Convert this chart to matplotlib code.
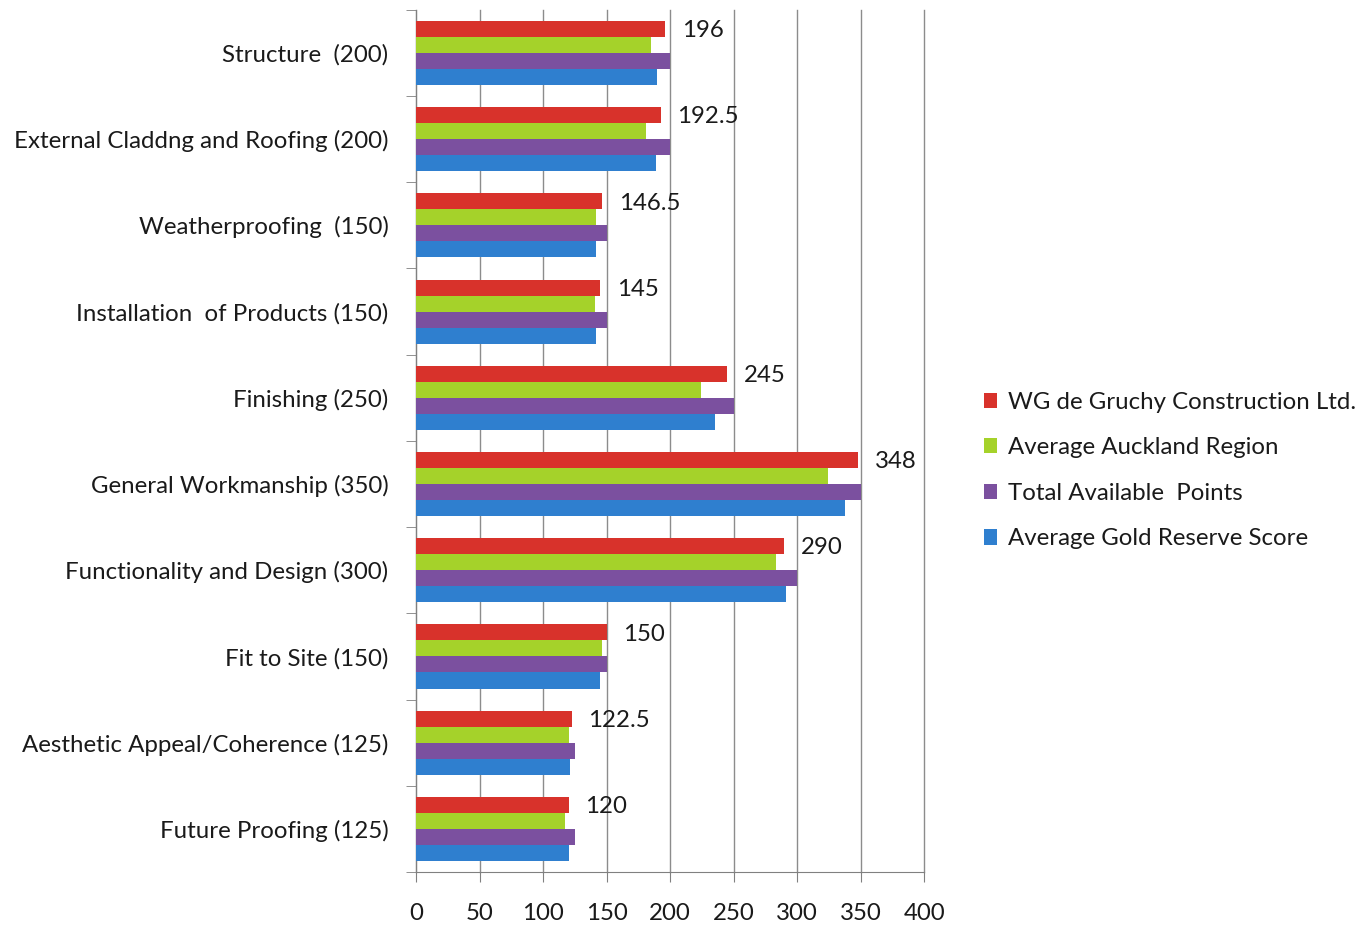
import numpy as np
import matplotlib
matplotlib.use('Agg')
import matplotlib.pyplot as plt
from matplotlib.patches import Patch
from matplotlib.ticker import MultipleLocator, FixedLocator

plt.rcParams['font.family'] = ['Lato', 'DejaVu Sans']

# categories, top to bottom
categories = ['Structure  (200)', 'External Claddng and Roofing (200)', 'Weatherproofing  (150)',
              'Installation  of Products (150)', 'Finishing (250)', 'General Workmanship (350)',
              'Functionality and Design (300)', 'Fit to Site (150)',
              'Aesthetic Appeal/Coherence (125)', 'Future Proofing (125)']

series_names = ['WG de Gruchy Construction Ltd.', 'Average Auckland Region',
                'Total Available  Points', 'Average Gold Reserve Score']

wg_scores = [196, 192.5, 146.5, 145, 245, 348, 290, 150, 122.5, 120]
auckland_avg = [185, 181, 142, 140.5, 224, 324, 283, 146.5, 120, 117]
total_points = [200, 200, 150, 150, 250, 350, 300, 150, 125, 125]
gold_reserve_avg = [190, 188.5, 142, 142, 235.5, 338, 291, 145, 121.5, 120]

colors = ['#d8322b', '#a5d22a', '#7b509f', '#2f7fcf']
FS = 17.3

fig = plt.figure(figsize=(13.69, 9.30), dpi=100)
ax = fig.add_axes([0.304, 0.0624, 0.371, 0.927])

n = len(categories)
y = np.arange(n)
h = 0.186
all_series = [wg_scores, auckland_avg, total_points, gold_reserve_avg]
for i, vals in enumerate(all_series):
    offs = (i - 1.5) * h
    ax.barh(y + offs, vals, height=h, color=colors[i], zorder=3)

# data labels for the WG series
for yi, v in zip(y, wg_scores):
    lbl = ('%g' % v)
    ax.annotate(lbl, xy=(v, yi - 1.5 * h + 0.02), xytext=(12, 0), textcoords='offset points',
                va='center', ha='left', fontsize=FS, color='#1a1a1a')

ax.set_xlim(0, 400)
ax.set_ylim(n - 0.5, -0.5)
ax.xaxis.set_major_locator(MultipleLocator(50))
ax.grid(axis='x', color='#8c8c8c', linewidth=1.0, zorder=0)
for gl in ax.get_xgridlines():
    gl.set_clip_on(False)
ax.set_axisbelow(True)

ax.set_yticks(y)
ax.set_yticklabels(categories, fontsize=FS, color='#1a1a1a')
ax.yaxis.set_minor_locator(FixedLocator(np.arange(-0.5, n, 1)))
ax.tick_params(axis='y', which='major', length=0, pad=20)
ax.tick_params(axis='y', which='minor', length=7, color='#808080', direction='out')
ax.tick_params(axis='x', length=7, color='#808080', labelsize=FS, pad=15, labelcolor='#1a1a1a')

for s in ['top', 'right']:
    ax.spines[s].set_visible(False)
for s in ['left', 'bottom']:
    ax.spines[s].set_color('#808080')

handles = [Patch(facecolor=c, label=s) for c, s in zip(colors, series_names)]
fig.legend(handles=handles, loc='center left', bbox_to_anchor=(0.703, 0.494), frameon=False,
           fontsize=FS, handlelength=0.55, handleheight=0.6, handletextpad=0.45,
           labelspacing=1.02, labelcolor='#1a1a1a')

fig.savefig('out.png', dpi=100)
